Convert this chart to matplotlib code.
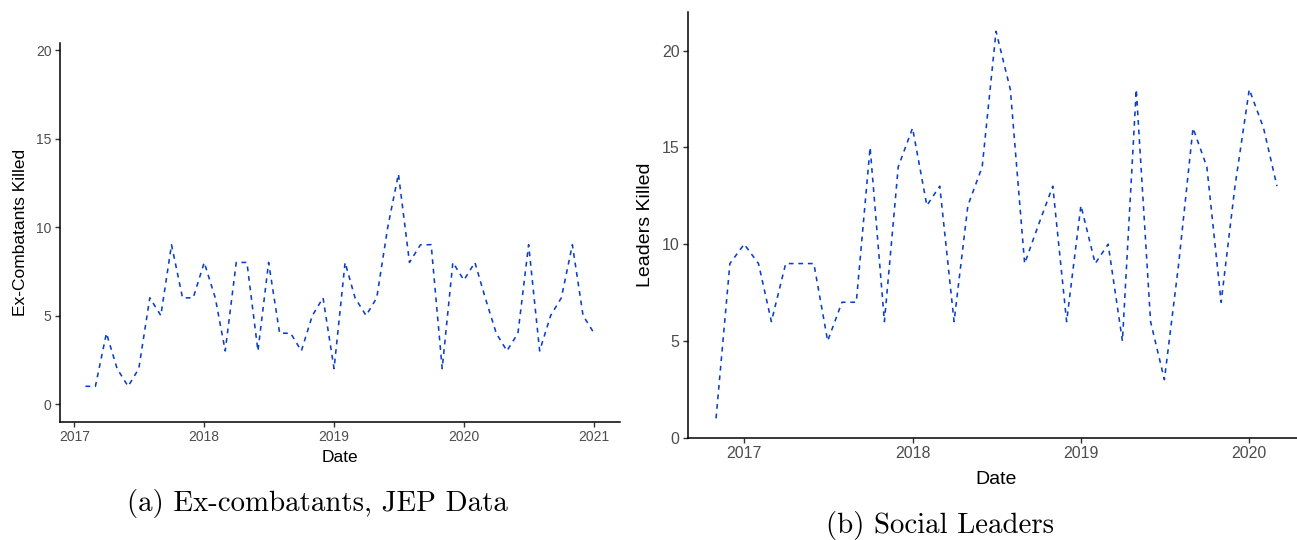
import matplotlib
matplotlib.use("Agg")
import matplotlib.pyplot as plt
import matplotlib.dates as mdates
import pandas as pd

# ---------------- data ----------------
ex_start = "2017-02-01"
ex_killed = [1, 1, 4, 2, 1, 2, 6, 5, 9, 6, 6,
             8, 6, 3, 8, 8, 3, 8, 4, 4, 3, 5, 6,
             2, 8, 6, 5, 6, 10, 13, 8, 9, 9, 2, 8,
             7, 8, 6, 4, 3, 4, 9, 3, 5, 6, 9, 5,
             4]
ex_dates = pd.date_range(ex_start, periods=len(ex_killed), freq="MS")

leaders_start = "2016-11-01"
leaders_killed = [1, 9,
                  10, 9, 6, 9, 9, 9, 5, 7, 7, 15, 6, 14,
                  16, 12, 13, 6, 12, 14, 21, 18, 9, 11, 13, 6,
                  12, 9, 10, 5, 18, 6, 3, 9, 16, 14, 7, 13,
                  18, 16, 13]
leaders_dates = pd.date_range(leaders_start, periods=len(leaders_killed), freq="MS")

left_xticks = ["2017", "2018", "2019", "2020", "2021"]
right_xticks = ["2017", "2018", "2019", "2020"]
yticks = [0, 5, 10, 15, 20]

ylabel_left = "Ex-Combatants Killed"
ylabel_right = "Leaders Killed"
xlabel = "Date"
caption_a = "(a) Ex-combatants, JEP Data"
caption_b = "(b) Social Leaders"

# ---------------- style ----------------
W, H = 1297, 540
LINE_COLOR = "#0a3fcc"
TICK_COLOR = "#4d4d4d"
SANS = ["Liberation Sans", "DejaVu Sans"]


def frac(x0, y0, x1, y1):
    """pixel box (left, top, right, bottom) -> figure fraction rect"""
    return [x0 / W, 1 - y1 / H, (x1 - x0) / W, (y1 - y0) / H]


fig = plt.figure(figsize=(W / 100, H / 100), dpi=100)


def style_axes(ax, tick_size):
    for s in ["top", "right"]:
        ax.spines[s].set_visible(False)
    for s in ["left", "bottom"]:
        ax.spines[s].set_linewidth(1.1)
        ax.spines[s].set_color("black")
    ax.tick_params(axis="both", direction="out", length=3.5, width=1.0,
                   color="#333333", labelcolor=TICK_COLOR, labelsize=tick_size, pad=2.5)
    for lab in ax.get_xticklabels() + ax.get_yticklabels():
        lab.set_family(SANS)


def expand(dates, frac_=0.05):
    lo = mdates.date2num(dates.min())
    hi = mdates.date2num(dates.max())
    r = hi - lo
    return lo - frac_ * r, hi + frac_ * r


# ---- left panel ----
axL = fig.add_axes(frac(60, 43, 619.5, 421.7))
axL.plot(ex_dates, ex_killed, color=LINE_COLOR, linewidth=1.15,
         linestyle=(0, (3.0, 3.0)))
axL.set_xlim(*expand(ex_dates))
axL.set_ylim(-1, 20.4)
axL.set_yticks(yticks)
axL.set_xticks([pd.Timestamp(f"{y}-01-01") for y in left_xticks])
axL.set_xticklabels(left_xticks)
style_axes(axL, 10)
axL.set_xlabel(xlabel, family=SANS, fontsize=12.5, labelpad=4)
axL.set_ylabel(ylabel_left, family=SANS, fontsize=12.5, labelpad=6)

# ---- right panel ----
axR = fig.add_axes(frac(688, 12, 1305, 437.7))
axR.plot(leaders_dates, leaders_killed, color=LINE_COLOR, linewidth=1.15,
         linestyle=(0, (3.0, 3.0)))
axR.set_xlim(*expand(leaders_dates))
axR.set_ylim(0, 22)
axR.set_yticks(yticks)
axR.set_xticks([pd.Timestamp(f"{y}-01-01") for y in right_xticks])
axR.set_xticklabels(right_xticks)
style_axes(axR, 11.5)
axR.set_xlabel(xlabel, family=SANS, fontsize=14, labelpad=7)
axR.set_ylabel(ylabel_right, family=SANS, fontsize=14, labelpad=6)

# ---- captions ----
fig.text(317 / W, 1 - 503 / H, caption_a, family="cmr10", fontsize=20.8,
         ha="center", va="center")
fig.text(940 / W, 1 - 525 / H, caption_b, family="cmr10", fontsize=20.8,
         ha="center", va="center")

fig.savefig("out.png", dpi=100)
